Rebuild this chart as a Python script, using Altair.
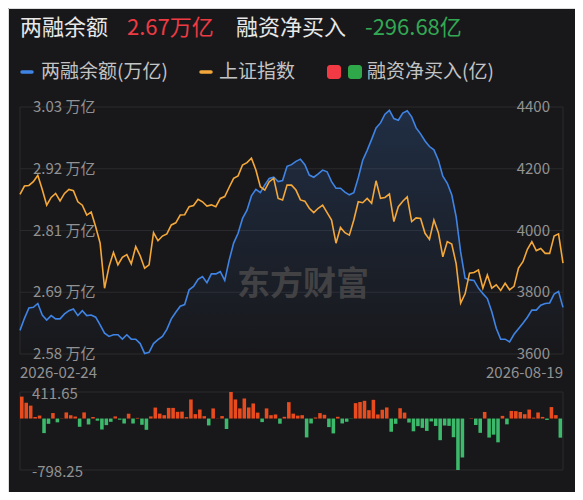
import altair as alt
import pandas as pd

FONT = "Noto Sans CJK SC"
BG = "#18181b"
GRID = "#2a2a2e"
LABEL = "#929292"
BLUE = "#3f84e5"
ORANGE = "#f5a83a"
RED_BAR = "#e84c1e"
GREEN_BAR = "#3cb96a"

# ---- data ----
date_labels = ["2026-02-24", "2026-08-19"]

# 两融余额 (万亿)
margin_balance = [
    2.623, 2.645, 2.664, 2.665, 2.672, 2.651, 2.642, 2.650, 2.644, 2.644,
    2.653, 2.659, 2.662, 2.650, 2.659, 2.650, 2.651, 2.647, 2.633, 2.618,
    2.612, 2.615, 2.615, 2.607, 2.615, 2.607, 2.607, 2.599, 2.581, 2.583,
    2.599, 2.606, 2.612, 2.625, 2.644, 2.656, 2.667, 2.670, 2.697, 2.703,
    2.716, 2.721, 2.710, 2.726, 2.726, 2.730, 2.714, 2.751, 2.782, 2.800,
    2.827, 2.842, 2.868, 2.880, 2.874, 2.888, 2.900, 2.902, 2.894, 2.896, 2.922,
    2.925, 2.931, 2.935, 2.925, 2.906, 2.902, 2.908, 2.915, 2.912, 2.894,
    2.882, 2.882, 2.875, 2.870, 2.874, 2.901, 2.933, 2.951, 2.971, 2.992,
    3.001, 3.017, 3.024, 3.009, 3.006, 3.019, 3.023, 3.012, 2.992, 2.981, 2.968,
    2.958, 2.952, 2.933, 2.904, 2.891, 2.870, 2.830, 2.766, 2.718, 2.715,
    2.714, 2.700, 2.690, 2.681, 2.657, 2.627, 2.607, 2.607, 2.602, 2.616,
    2.626, 2.636, 2.647, 2.660, 2.660, 2.669, 2.672, 2.673, 2.689, 2.694, 2.665,
]

# 上证指数
sh_index = [
    4117, 4144, 4146, 4158, 4179, 4133, 4082, 4107, 4120, 4096,
    4120, 4133, 4129, 4093, 4082, 4050, 4060, 4012, 3959, 3813,
    3883, 3929, 3889, 3913, 3922, 3892, 3948, 3918, 3878, 3889, 3993,
    3967, 3982, 3989, 4018, 4025, 4050, 4051, 4077, 4081, 4101,
    4093, 4079, 4083, 4077, 4104, 4110, 4140, 4169, 4177, 4212,
    4220, 4234, 4196, 4142, 4131, 4158, 4169, 4104, 4099, 4147,
    4147, 4131, 4099, 4095, 4072, 4058, 4072, 4082, 4058, 4034,
    3959, 4010, 3993, 3985, 4034, 4093, 4090, 4104, 4088, 4161,
    4104, 4107, 4118, 4029, 4077, 4095, 4109, 4029, 4041, 4039,
    3991, 3971, 4034, 3993, 3915, 3964, 3956, 3892, 3765, 3795,
    3862, 3864, 3872, 3813, 3856, 3813, 3824, 3806, 3829, 3808,
    3819, 3878, 3899, 3939, 3964, 3935, 3942, 3926, 3926, 3982,
    3989, 3894,
]

# 融资净买入 (亿)
net_buy = [
    340, 245, 200, 24, 46, -226, -82, 85, -59, 4,
    95, 51, 31, -128, 95, -92, 24, -33, -170, -102,
    -51, 33, -18, -77, 75, -77, 10, -97, -175, 33,
    170, 76, 52, 165, 165, 104, 107, 22, 296, 68,
    140, 37, -107, 157, 3, 38, -162, 411.65, 296, 157,
    311, 172, 234, 92, -55, 157, 52, 63, -80, 27,
    254, 76, 45, 52, -293, -76, 16, 84, 58, -133,
    -231, 27, -76, -50, -4, 239, 256, 275, 130, 290,
    63, 136, 172, -205, -82, 160, 92, -62, -198, -118,
    -145, -192, -45, -115, -336, -108, -114, -290, -798.25, -604,
    0, 6, -100, -222, 102, -295, -250, -369, 41, -90,
    118, 115, 100, 67, 139, 14, 94, 25, -22, 178,
    53, -296.68,
]

left_ticks = [2.58, 2.6925, 2.805, 2.9175, 3.03]
left_tick_labels = ["2.58 万亿", "2.69 万亿", "2.81 万亿", "2.92 万亿", "3.03 万亿"]
right_ticks = [3600, 3800, 4000, 4200, 4400]
right_tick_labels = ["3600", "3800", "4000", "4200", "4400"]
bar_ticks = [411.65, -798.25]
bar_tick_labels = ["411.65", "-798.25"]

# ---- tables ----
n = len(margin_balance)
lines_df = pd.DataFrame({"i": list(range(n)), "margin": margin_balance, "sh": sh_index})
bars_df = pd.DataFrame({"i": list(range(len(net_buy))), "net": net_buy})
bars_df["i2"] = bars_df["i"] + 0.8
bars_df["sign"] = ["up" if v >= 0 else "down" for v in net_buy]
left_df = pd.DataFrame({"v": left_ticks, "lab": left_tick_labels})
right_df = pd.DataFrame({"v": right_ticks, "lab": right_tick_labels})
barlab_df = pd.DataFrame({"v": bar_ticks, "lab": bar_tick_labels})
date_df = pd.DataFrame({"i": [0, n - 1], "lab": date_labels})

xs = alt.Scale(domain=[0, n - 1], range=[12, 555], nice=False, zero=False)
ys_left = alt.Scale(domain=[2.58, 3.03], range=[346, 99], nice=False, zero=False)
ys_right = alt.Scale(domain=[3600, 4400], range=[346, 99], nice=False, zero=False)
ys_bar = alt.Scale(domain=[-798.25, 411.65], range=[462, 384], nice=False, zero=False)

X = alt.X("i:Q", scale=xs, axis=None)


def txt(s, x, y, size, color, align="left", weight="normal"):
    return alt.Chart(pd.DataFrame({"t": [s]})).mark_text(
        align=align, baseline="middle", fontSize=size, color=color,
        font=FONT, fontWeight=weight
    ).encode(x=alt.value(x), y=alt.value(y), text="t:N")


one = pd.DataFrame({"t": [0]})


def vline(x, y1, y2):
    return alt.Chart(one).mark_rule(color=GRID, strokeWidth=1).encode(
        x=alt.value(x), y=alt.value(y1), y2=alt.value(y2))


# grid lines
grid_top = alt.Chart(left_df).mark_rule(color=GRID, strokeWidth=1).encode(
    y=alt.Y("v:Q", scale=ys_left, axis=None), x=alt.value(12), x2=alt.value(555))
grid_bot = alt.Chart(barlab_df).mark_rule(color=GRID, strokeWidth=1).encode(
    y=alt.Y("v:Q", scale=ys_bar, axis=None), x=alt.value(12), x2=alt.value(555))

# area + lines
area = alt.Chart(lines_df).mark_area(
    line=False,
    color=alt.Gradient(
        gradient="linear",
        stops=[alt.GradientStop(color="rgba(63,132,229,0.20)", offset=0),
               alt.GradientStop(color="rgba(63,132,229,0.0)", offset=1)],
        x1=0, x2=0, y1=0, y2=1),
).encode(x=X, y=alt.Y("margin:Q", scale=ys_left, axis=None), y2=alt.datum(2.58))

watermark = txt("东方财富", 229, 277, 33, "#424245", weight="bold")

blue_line = alt.Chart(lines_df).mark_line(color=BLUE, strokeWidth=1.6).encode(
    x=X, y=alt.Y("margin:Q", scale=ys_left, axis=None))
orange_line = alt.Chart(lines_df).mark_line(color=ORANGE, strokeWidth=1.6).encode(
    x=X, y=alt.Y("sh:Q", scale=ys_right, axis=None))

bars = alt.Chart(bars_df).mark_rect().encode(
    x=X, x2="i2:Q",
    y=alt.Y("net:Q", scale=ys_bar, axis=None), y2=alt.datum(0),
    color=alt.Color("sign:N", scale=alt.Scale(domain=["up", "down"], range=[RED_BAR, GREEN_BAR]), legend=None),
)

# axis labels as text
left_labels = alt.Chart(left_df).mark_text(
    align="left", baseline="middle", fontSize=15, color=LABEL, font=FONT
).encode(y=alt.Y("v:Q", scale=ys_left, axis=None), x=alt.value(25), text="lab:N")
right_labels = alt.Chart(right_df).mark_text(
    align="right", baseline="middle", fontSize=15, color=LABEL, font=FONT
).encode(y=alt.Y("v:Q", scale=ys_right, axis=None), x=alt.value(542), text="lab:N")
bar_labels = alt.Chart(barlab_df).mark_text(
    align="left", baseline="middle", fontSize=15, color=LABEL, font=FONT, dy=2
).encode(y=alt.Y("v:Q", scale=ys_bar, axis=None), x=alt.value(24), text="lab:N")
date_left = alt.Chart(date_df.iloc[[0]]).mark_text(
    align="left", baseline="middle", fontSize=15, color=LABEL, font=FONT
).encode(x=X, y=alt.value(365), text="lab:N")
date_right = alt.Chart(date_df.iloc[[1]]).mark_text(
    align="right", baseline="middle", fontSize=15, color=LABEL, font=FONT
).encode(x=X, y=alt.value(365), text="lab:N")

# header + legend
header = [
    txt("两融余额", 12, 20, 22, "#e8e8e8"),
    txt("2.67万亿", 119, 20, 22, "#ee3a43"),
    txt("融资净买入", 228, 20, 22, "#e8e8e8"),
    txt("-296.68亿", 357, 20, 22, "#33a853"),
]
LEG = "#c4c4c4"
legend = [
    alt.Chart(one).mark_rule(color=BLUE, strokeWidth=3.5, strokeCap="round").encode(
        x=alt.value(14), x2=alt.value(24), y=alt.value(64)),
    txt("两融余额(万亿)", 33, 64, 19, LEG),
    alt.Chart(one).mark_rule(color=ORANGE, strokeWidth=3.5, strokeCap="round").encode(
        x=alt.value(193), x2=alt.value(203), y=alt.value(64)),
    txt("上证指数", 211, 64, 19, LEG),
    alt.Chart(one).mark_rect(color="#f23a45", cornerRadius=3).encode(
        x=alt.value(319), x2=alt.value(333), y=alt.value(57), y2=alt.value(71)),
    alt.Chart(one).mark_rect(color="#2fa84a", cornerRadius=3).encode(
        x=alt.value(340), x2=alt.value(354), y=alt.value(57), y2=alt.value(71)),
    txt("融资净买入(亿)", 359, 64, 19, LEG),
]

layers = [
    grid_top, grid_bot,
    vline(12, 99, 346), vline(555, 99, 346),
    vline(12, 384, 462), vline(555, 384, 462),
    area, watermark, blue_line, orange_line, bars,
    left_labels, right_labels, bar_labels, date_left, date_right,
] + header + legend

chart = alt.layer(*layers).resolve_scale(y="independent").properties(
    width=567, height=484,
    autosize=alt.AutoSizeParams(type="none"),
    padding=0,
    background=BG,
).configure_view(stroke=None).configure(font=FONT)

chart.save("out.html", embed_options={"renderer": "svg", "actions": False})
